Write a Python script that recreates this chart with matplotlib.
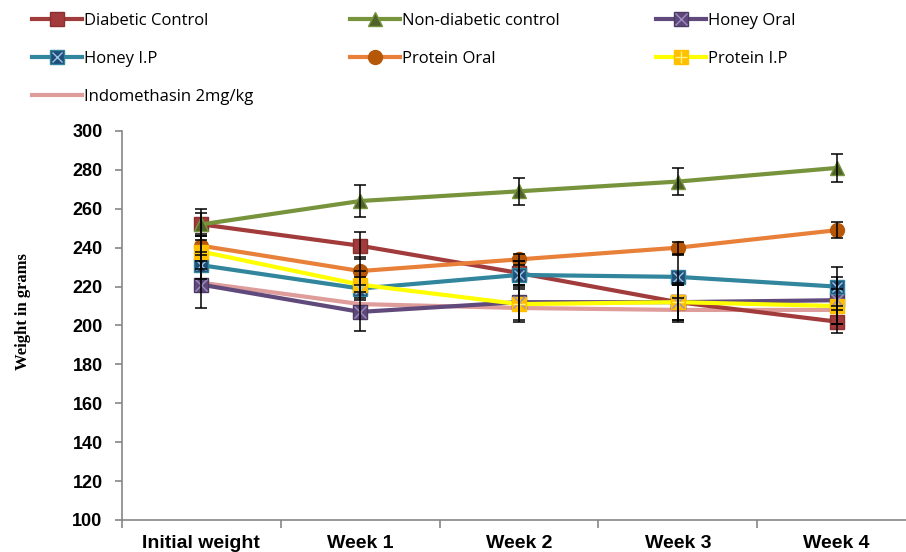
import numpy as np
import matplotlib.pyplot as plt
from matplotlib.legend_handler import HandlerTuple

# Data
weeks = ['Initial weight', 'Week 1', 'Week 2', 'Week 3', 'Week 4']

diabetic = [252, 241, 227, 212, 202]
diabetic_err = [8, 7, 6, 9, 6]
non_diabetic = [252, 264, 269, 274, 281]
non_diabetic_err = [6, 8, 7, 7, 7]
honey_oral = [221, 207, 212, 212, 213]
honey_oral_err = [12, 10, 9, 10, 12]
honey_ip = [231, 219, 226, 225, 220]
honey_ip_err = [7, 6, 7, 11, 10]
protein_oral = [241, 228, 234, 240, 249]
protein_oral_err = [5, 7, 3, 3, 4]
protein_ip = [238, 221, 211, 212, 210]
protein_ip_err = [9, 7, 9, 9, 9]
indomethasin = [222, 211, 209, 208, 208]

x = np.arange(len(weeks))

fig = plt.figure(figsize=(9.06, 5.52), dpi=100)
ax = fig.add_axes([122/906, 32/552, (916-122)/906, 389/552])

lw = 3
ms = 10
ebkw = dict(fmt='none', ecolor='black', elinewidth=1.1, capsize=4, capthick=1.1, zorder=10)

l1, = ax.plot(x, diabetic, color='#A23B3B', lw=lw, marker='s', ms=ms,
              mfc='#A23B3B', mec='#8B2F2F', zorder=3)
l2, = ax.plot(x, non_diabetic, color='#77933C', lw=lw, marker='^', ms=ms,
              mfc='#4F6228', mec='#77933C', zorder=3)
l3, = ax.plot(x, honey_oral, color='#604A7B', lw=lw, marker='s', ms=ms,
              mfc='#5F497A', mec='#4B3A62', zorder=3)
l3b, = ax.plot(x, honey_oral, ls='none', marker='x', ms=ms*0.8, mec='#A08CC0', mew=1, zorder=4)
l4, = ax.plot(x, honey_ip, color='#31859C', lw=lw, marker='s', ms=ms,
              mfc='#1F4E79', mec='#31859C', zorder=3)
l4b, = ax.plot(x, honey_ip, ls='none', marker='x', ms=ms*0.7, mec='#9DC3E6', mew=1, zorder=4)
l5, = ax.plot(x, protein_oral, color='#E8803A', lw=lw, marker='o', ms=ms,
              mfc='#B65708', mec='#B65708', zorder=3)
l6, = ax.plot(x, protein_ip, color='#FFFF00', lw=lw, marker='s', ms=ms,
              mfc='#FFC000', mec='#FFC000', zorder=3)
l6b, = ax.plot(x, protein_ip, ls='none', marker='+', ms=ms*0.9, mec='#FFF27A', mew=1, zorder=4)
l7, = ax.plot(x, indomethasin, color='#DE9C9B', lw=lw, zorder=2)

ax.errorbar(x, diabetic, yerr=diabetic_err, **ebkw)
ax.errorbar(x, non_diabetic, yerr=non_diabetic_err, **ebkw)
ax.errorbar(x, honey_oral, yerr=honey_oral_err, **ebkw)
ax.errorbar(x, honey_ip, yerr=honey_ip_err, **ebkw)
ax.errorbar(x, protein_oral, yerr=protein_oral_err, **ebkw)
ax.errorbar(x, protein_ip, yerr=protein_ip_err, **ebkw)

ax.set_xlim(-0.5, 4.5)
ax.set_ylim(100, 300)
ax.set_yticks(np.arange(100, 301, 20))
ax.set_xticks(x)
ax.set_xticklabels(weeks)
ax.set_xticks(np.arange(-0.5, 4.6, 1), minor=True)
ax.tick_params(axis='x', which='major', length=0, pad=11)
ax.tick_params(axis='x', which='minor', length=6, color='#868686', width=1.2)
ax.tick_params(axis='y', length=5, color='#868686', width=1.2, pad=9)
for lab in ax.get_xticklabels():
    lab.set_fontfamily('Liberation Sans')
    lab.set_fontweight('bold')
    lab.set_fontsize(14)
for lab in ax.get_yticklabels():
    lab.set_fontfamily('Liberation Sans')
    lab.set_fontweight('bold')
    lab.set_fontsize(13)

for s in ['top', 'right']:
    ax.spines[s].set_visible(False)
for s in ['left', 'bottom']:
    ax.spines[s].set_color('#868686')
    ax.spines[s].set_linewidth(1.2)

ax.set_ylabel('Weight in grams', fontfamily='Liberation Serif', fontweight='bold',
              fontsize=12)
ax.yaxis.set_label_coords(-0.115, 0.535)

# legend, column-major ordering to reproduce row-wise layout
handles = [l1, (l4, l4b), l7, l2, l5, (l3, l3b), (l6, l6b)]
labels = ['Diabetic Control', 'Honey I.P', 'Indomethasin 2mg/kg',
          'Non-diabetic control', 'Protein Oral', 'Honey Oral', 'Protein I.P']
fig.legend(handles, labels, loc='upper left', bbox_to_anchor=(17/906, 1.004),
           ncol=3, frameon=False, handlelength=3.0,
           handletextpad=0.15, columnspacing=5.75, labelspacing=1.33,
           handler_map={tuple: HandlerTuple(ndivide=1)},
           prop={'family': 'Open Sans', 'size': 12})

fig.savefig('out.png', dpi=100)
